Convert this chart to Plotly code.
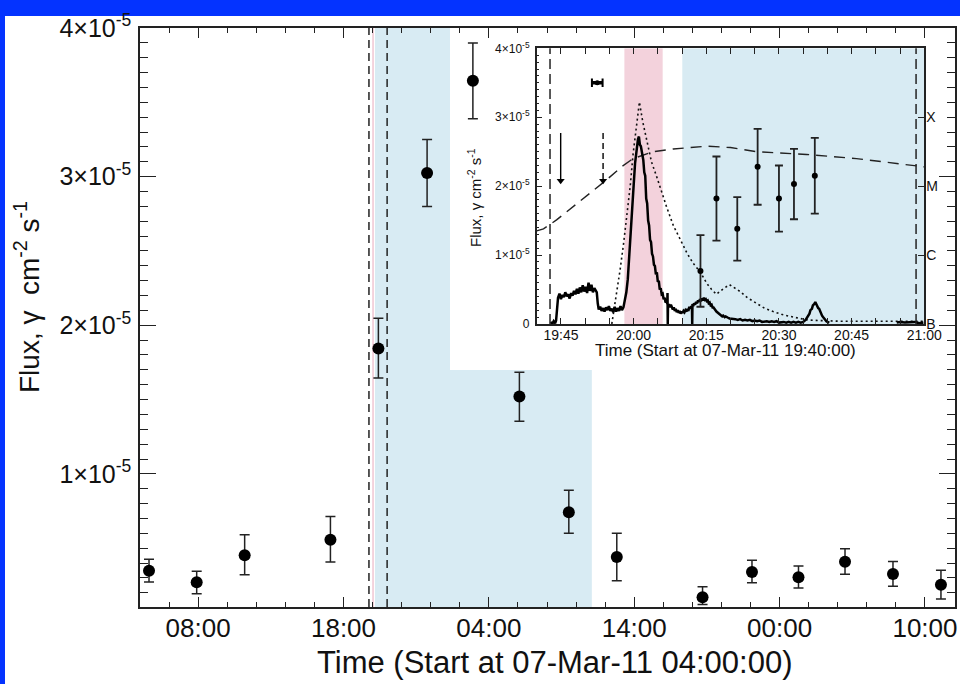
import numpy as np
import pandas as pd
import plotly.graph_objects as go

# ---------------- data: main panel ----------------
MAIN_START = pd.Timestamp("2011-03-07 04:00:00")
main_hours = [0.62, 3.90, 7.20, 13.10, 16.40, 19.75, 22.90, 26.10, 29.50, 32.80,
              38.70, 42.10, 45.30, 48.50, 51.80, 55.10]
main_flux = [3.48e-6, 2.70e-6, 4.53e-6, 5.56e-6, 1.844e-5, 3.024e-5, 3.645e-5, 1.52e-5,
             7.42e-6, 4.40e-6, 1.69e-6, 3.39e-6, 3.04e-6, 4.08e-6, 3.26e-6, 2.54e-6]
main_err_up = [0.77e-6, 0.74e-6, 1.37e-6, 1.57e-6, 2.04e-6, 2.26e-6, 2.55e-6, 1.63e-6,
               1.48e-6, 1.60e-6, 0.72e-6, 0.79e-6, 0.76e-6, 0.88e-6, 0.85e-6, 0.97e-6]
main_err_dn = [0.76e-6, 0.77e-6, 1.32e-6, 1.50e-6, 1.99e-6, 2.24e-6, 2.55e-6, 1.66e-6,
               1.42e-6, 1.59e-6, 0.49e-6, 0.72e-6, 0.72e-6, 0.84e-6, 0.83e-6, 0.96e-6]
main_window = ["2011-03-07 19:45", "2011-03-07 21:00"]
impulsive = ["2011-03-07 19:58", "2011-03-07 20:06"]
extended = ["2011-03-07 20:10", "2011-03-08 11:05"]
main_range = ["2011-03-07 04:00", "2011-03-09 12:04"]

# ---------------- data: inset ----------------
INSET_START = pd.Timestamp("2011-03-07 19:40:00")
goes_min = [2.9, 3.2, 3.5, 3.8, 4.0, 4.2, 4.4, 4.7, 5.0, 5.3, 5.6, 5.9, 6.2, 6.5, 6.8, 7.1,
            7.4, 7.7, 8.0, 8.3, 8.6, 8.9, 9.2, 9.5, 9.8, 10.1, 10.4, 10.7, 11.0, 11.3, 11.6,
            11.9, 12.2, 12.4, 12.6, 12.8, 13.1, 13.4, 13.7, 14.0, 14.3, 14.6, 14.9, 15.2,
            15.5, 15.8, 16.1, 16.4, 16.7, 17.0, 17.3, 17.6, 17.9, 18.2, 18.5, 18.8, 19.1,
            19.4, 19.7, 20.0, 20.3, 20.6, 20.9, 21.1, 21.3, 21.5, 21.8, 22.0, 22.2, 22.4,
            22.6, 22.8, 23.0, 23.2, 23.4, 23.6, 23.8, 24.0, 24.2, 24.4, 24.6, 24.8, 25.0,
            25.2, 25.4, 25.6, 25.8, 26.0, 26.2, 26.4, 26.6, 26.8, 26.95,
            27.0, 27.05, 27.1, 27.3, 27.5, 27.7, 27.9, 28.1, 28.3, 28.5, 28.7, 28.9, 29.1,
            29.3, 29.5, 29.7, 29.9, 30.1, 30.3, 30.5, 30.7, 30.9, 31.1, 31.3, 31.5, 31.7,
            31.9, 32.05, 32.1, 32.15, 32.3, 32.5, 32.7, 32.9, 33.1, 33.3, 33.5, 33.7, 33.9,
            34.1, 34.3, 34.5, 34.7, 34.9, 35.1, 35.3, 35.5, 35.7, 35.9, 36.1, 36.3, 36.5,
            36.7, 36.9, 37.1, 37.3, 37.5, 37.7, 37.9, 38.1, 38.3, 38.5, 38.8, 39.0, 39.3,
            39.5, 39.8, 40.0, 40.5, 41.0, 41.5, 42.0, 42.5, 43.0, 43.5, 44.0, 44.5, 45.0,
            45.5, 46.0, 46.5, 47.0, 47.5, 48.0, 48.5, 49.0, 49.5, 50.0, 50.5, 51.0, 51.5,
            52.0, 52.5, 53.0, 53.5, 54.0, 54.5, 55.0, 55.5, 56.0, 56.3, 56.5, 56.8, 57.0,
            57.3, 57.5, 57.7, 57.9, 58.1, 58.3, 58.5, 58.7, 58.9, 59.1, 59.3, 59.5, 59.8,
            60.0, 60.4, None,
            74.3, 75.0, 76.0, 77.0, 78.0, 79.0, 79.8]
goes_e6 = [0.3, 0.0, 0.4, 0.1, 0.5, 2.0, 3.8, 4.4, 3.6, 4.2, 3.9, 4.6, 4.0, 4.3, 3.7, 4.5,
           4.1, 4.8, 4.3, 5.1, 4.4, 5.3, 4.6, 5.6, 4.7, 5.4, 4.5, 6.0, 4.8, 5.7, 4.6,
           5.2, 4.9, 4.6, 3.0, 2.1, 2.5, 1.9, 2.3, 1.8, 2.4, 2.0, 2.6, 1.9,
           2.2, 1.7, 2.5, 1.8, 2.3, 1.9, 2.6, 2.0, 2.4, 3.5, 4.6, 6.5, 9.5,
           13.0, 16.5, 20.0, 23.3, 25.5, 26.8, 27.2, 26.0, 25.8, 24.5, 23.8, 22.0, 21.5,
           18.2, 17.5, 15.0, 14.3, 12.2, 11.9, 10.2, 9.8, 8.6, 8.4, 7.2, 7.5, 6.1,
           6.3, 5.0, 5.2, 4.3, 4.4, 3.6, 3.8, 3.1, 3.3, 2.9,
           4.5, 0.0, 2.6, 2.9, 2.4, 2.8, 2.5, 2.1, 2.4, 1.9, 2.2, 1.7, 2.0,
           1.6, 1.9, 1.5, 1.8, 1.6, 1.9, 1.7, 2.0, 1.8, 2.2, 1.9, 2.5, 2.2,
           2.6, 2.4, 0.0, 2.9, 2.6, 3.0, 2.8, 3.2, 3.0, 3.4, 3.2, 3.6, 3.3,
           3.7, 3.4, 3.8, 3.5, 3.6, 3.3, 3.4, 3.0, 3.1, 2.7, 2.8, 2.4, 2.4,
           2.1, 2.0, 1.8, 1.7, 1.5, 1.5, 1.3, 1.3, 1.1, 1.2, 1.0, 1.1, 0.9,
           0.9, 0.8, 0.8, 0.7, 0.7, 0.6, 0.7, 0.5, 0.6, 0.5, 0.6, 0.4, 0.5,
           0.4, 0.5, 0.3, 0.4, 0.4, 0.3, 0.4, 0.3, 0.4, 0.2, 0.3, 0.3, 0.2,
           0.3, 0.2, 0.3, 0.2, 0.3, 0.2, 0.3, 0.6, 1.2, 1.5, 2.0, 2.2, 2.7,
           2.9, 3.2, 2.8, 2.7, 2.3, 2.2, 1.8, 1.6, 1.2, 1.0, 0.8, 0.6, 0.4,
           0.3, 0.2, None,
           0.2, 0.3, 0.2, 0.2, 0.3, 0.1, 0.2]
model_min = [15.5, 16.3, 17.2, 17.9, 18.6, 19.3, 19.9, 20.6, 21.2, 21.9, 22.7, 23.7, 24.8,
             25.8, 26.8, 28.2, 29.6, 31.0, 32.3, 33.8, 35.1, 36.1, 37.1, 38.5, 39.8, 40.9,
             42.0, 43.5, 45.4, 47.0, 48.8, 50.5, 52.3, 54.0, 55.7, 58.0, 62.6, 70.0, 80.0]
model_e6 = [0.0, 3.5, 7.8, 11.5, 15.5, 20.0, 24.7, 28.8, 32.2, 29.3, 26.7, 23.5, 21.3,
            19.0, 17.0, 14.3, 12.2, 10.3, 8.8, 7.5, 5.9, 5.0, 4.3, 5.1, 5.7, 5.2,
            4.7, 3.8, 3.0, 2.3, 1.8, 1.4, 1.1, 0.8, 0.6, 0.5, 0.4, 0.4, 0.4]
exposure_min = [0.0, 1.4, 4.1, 8.9, 14.4, 17.5, 19.9, 24.0, 28.2, 35.1, 40.0, 45.4, 55.7, 66.0, 80.0]
exposure_e6 = [13.5, 13.8, 15.1, 17.8, 20.9, 22.8, 24.0, 25.0, 25.4, 25.8, 25.6, 25.0, 24.6, 24.0, 22.8]
lat_min = [33.8, 37.1, 41.4, 45.6, 50.0, 53.1, 57.4]
lat_flux = [0.77e-5, 1.82e-5, 1.38e-5, 2.28e-5, 1.82e-5, 2.03e-5, 2.15e-5]
lat_err = [0.52e-5, 0.61e-5, 0.46e-5, 0.55e-5, 0.48e-5, 0.51e-5, 0.55e-5]
ul_min = [4.95, 13.7]
ul_flux = [2.0e-5, 2.0e-5]
hx_min = [12.5]
hx_flux = [3.5e-5]
hx_err_min = [1.1]
inset_window_min = [2.75, 78.3]
inset_impulsive_min = [18.1, 26.0]
inset_extended_min = [30.05, 80.0]
goes_ticks = [0, 1e-5, 2e-5, 3e-5]
goes_labels = ["B", "C", "M", "X"]


def tmain(h):
    return MAIN_START + pd.Timedelta(hours=h)


def tin(m):
    return None if m is None else INSET_START + pd.Timedelta(minutes=m)


main_t = [tmain(h) for h in main_hours]
goes_t = [tin(m) for m in goes_min]
goes_y = [None if v is None else v * 1e-6 for v in goes_e6]
model_t = [tin(m) for m in model_min]
model_y = [v * 1e-6 for v in model_e6]
exp_t = [tin(m) for m in exposure_min]
exp_y = [v * 1e-6 for v in exposure_e6]
lat_t = [tin(m) for m in lat_min]

FONT = "Liberation Sans, Arial, sans-serif"
BLUE_BAND = "#d8ebf3"
PINK_BAND = "#f3d2dc"

# layout geometry (pixels of the 960x684 page)
MAIN_X = (140, 955)
MAIN_Y = (607, 28)
INSET_X = (536.7, 924.3)
INSET_Y = (324, 48.3)
BOX_LEFT_PX, BOX_BOTTOM_PX = 450, 370
INSET_YRANGE = [-0.0005e-5, 4.0005e-5]

r0, r1 = pd.Timestamp(main_range[0]), pd.Timestamp(main_range[1])
box_frac_x = (BOX_LEFT_PX - MAIN_X[0]) / (MAIN_X[1] - MAIN_X[0])
box_left_t = r0 + (r1 - r0) * box_frac_x
box_frac_y = (MAIN_Y[0] - BOX_BOTTOM_PX) / (MAIN_Y[0] - MAIN_Y[1])

fig = go.Figure()

fig.add_trace(go.Scatter(
    x=main_t, y=main_flux, mode="markers", xaxis="x", yaxis="y",
    marker=dict(color="black", size=12),
    error_y=dict(type="data", symmetric=False, array=main_err_up, arrayminus=main_err_dn,
                 color="#222", thickness=1.5, width=5),
    showlegend=False))

fig.add_trace(go.Scatter(x=exp_t, y=exp_y, mode="lines", xaxis="x2", yaxis="y2",
                         line=dict(color="#222", width=1.4, dash="11px,7px"), showlegend=False))
fig.add_trace(go.Scatter(x=model_t, y=model_y, mode="lines", xaxis="x2", yaxis="y2",
                         line=dict(color="#111", width=1.6, dash="2px,3px"), showlegend=False))
fig.add_trace(go.Scatter(x=goes_t, y=goes_y, mode="lines", xaxis="x2", yaxis="y2",
                         connectgaps=False,
                         line=dict(color="black", width=2.5), showlegend=False))
fig.add_trace(go.Scatter(
    x=lat_t, y=lat_flux, mode="markers", xaxis="x2", yaxis="y2",
    marker=dict(color="black", size=6),
    error_y=dict(type="data", array=lat_err, color="#222", thickness=1.8, width=4),
    showlegend=False))
for m, v, e in zip(hx_min, hx_flux, hx_err_min):
    fig.add_trace(go.Scatter(
        x=[tin(m - e), tin(m + e)], y=[v, v], mode="lines+markers", xaxis="x2", yaxis="y2",
        line=dict(color="black", width=3.5),
        marker=dict(symbol="line-ns", size=6, line=dict(width=2, color="black")),
        showlegend=False))
    fig.add_trace(go.Scatter(
        x=[tin(m)], y=[v], mode="markers", xaxis="x2", yaxis="y2",
        marker=dict(color="black", size=5), showlegend=False))
for i, (m, v) in enumerate(zip(ul_min, ul_flux)):
    fig.add_trace(go.Scatter(
        x=[tin(m), tin(m)], y=[v + 0.77e-5, v + 0.1e-5], mode="lines", xaxis="x2", yaxis="y2",
        line=dict(color="black", width=1.4, dash="solid" if i == 0 else "6px,4px"),
        showlegend=False))
    fig.add_trace(go.Scatter(
        x=[tin(m)], y=[v + 0.08e-5], mode="markers", xaxis="x2", yaxis="y2",
        marker=dict(symbol="triangle-down", size=7, color="black"), showlegend=False))
fig.add_trace(go.Scatter(x=[tin(0)], y=[0], mode="markers", xaxis="x2", yaxis="y3",
                         marker=dict(opacity=0), showlegend=False, hoverinfo="skip"))

shapes = [
    dict(type="rect", xref="paper", yref="paper", x0=5 / 960, x1=1.0, y0=0,
         y1=(684 - 16) / 684, fillcolor="white", line=dict(width=0), layer="below"),
    dict(type="rect", xref="x", yref="y domain", x0=extended[0], x1=box_left_t, y0=0, y1=1,
         fillcolor=BLUE_BAND, line=dict(width=0), layer="below"),
    dict(type="rect", xref="x", yref="y domain", x0=box_left_t, x1=extended[1], y0=0,
         y1=box_frac_y, fillcolor=BLUE_BAND, line=dict(width=0), layer="below"),
    dict(type="rect", xref="x", yref="y domain", x0=impulsive[0], x1=impulsive[1], y0=0, y1=1,
         fillcolor=PINK_BAND, line=dict(width=0), layer="below"),
    # inset bands: data refs so they live in the inset subplot's own layer
    dict(type="rect", xref="x2", yref="y2", x0=tin(inset_impulsive_min[0]),
         x1=tin(inset_impulsive_min[1]), y0=INSET_YRANGE[0], y1=INSET_YRANGE[1],
         fillcolor=PINK_BAND, line=dict(width=0), layer="below"),
    dict(type="rect", xref="x2", yref="y2", x0=tin(inset_extended_min[0]),
         x1=tin(inset_extended_min[1]), y0=INSET_YRANGE[0], y1=INSET_YRANGE[1],
         fillcolor=BLUE_BAND, line=dict(width=0), layer="below"),
]
for t in main_window:
    shapes.append(dict(type="line", xref="x", yref="y domain", x0=t, x1=t, y0=0, y1=1,
                       line=dict(color="#222", width=1.5, dash="8px,5px")))
for m in inset_window_min:
    shapes.append(dict(type="line", xref="x2", yref="y2 domain", x0=tin(m), x1=tin(m), y0=0, y1=1,
                       line=dict(color="#222", width=1.5, dash="10px,5px")))


def sci(v):
    return "%d×10<sup>-5</sup>" % v


fig.update_layout(
    width=960, height=684, margin=dict(l=0, r=0, t=0, b=0, autoexpand=False),
    paper_bgcolor="rgb(4,51,255)", plot_bgcolor="white",
    font=dict(family=FONT, color="#111"),
    showlegend=False,
    shapes=shapes,
    xaxis=dict(domain=[MAIN_X[0] / 960, MAIN_X[1] / 960], anchor="y", type="date", range=main_range,
               automargin=False,
               tick0="2011-03-07 08:00", dtick=36000000, tickformat="%H:%M",
               ticks="inside", ticklen=10, tickwidth=1.3, tickcolor="#222",
               minor=dict(dtick=7200000, ticks="inside", ticklen=5, tickwidth=1.3, tickcolor="#222"),
               showline=True, linecolor="#222", linewidth=1.5, mirror="allticks",
               showgrid=False, zeroline=False, tickfont=dict(size=26, family=FONT, color="#111"),
               ticklabelstandoff=-3),
    yaxis=dict(domain=[(684 - MAIN_Y[0]) / 684, (684 - MAIN_Y[1]) / 684], anchor="x",
               automargin=False,
               range=[1.04e-6, 4.0005e-5],
               tickvals=[1e-5, 2e-5, 3e-5, 4e-5], ticktext=[sci(1), sci(2), sci(3), sci(4)],
               ticks="inside", ticklen=16, tickwidth=1.3, tickcolor="#222",
               minor=dict(dtick=1e-6, ticks="inside", ticklen=8, tickwidth=1.3, tickcolor="#222"),
               showline=True, linecolor="#222", linewidth=1.5, mirror="allticks",
               showgrid=False, zeroline=False, tickfont=dict(size=25, family=FONT, color="#111"),
               ticklabelstandoff=2),
    xaxis2=dict(domain=[INSET_X[0] / 960, INSET_X[1] / 960], anchor="y2", type="date",
                automargin=False,
                range=[tin(0), tin(80)], tick0="2011-03-07 19:45", dtick=900000,
                tickformat="%H:%M", ticks="inside", ticklen=6, tickwidth=1, tickcolor="#222",
                minor=dict(dtick=300000, ticks="inside", ticklen=3, tickwidth=1, tickcolor="#222"),
                showline=True, linecolor="#222", linewidth=1.5, mirror="allticks",
                showgrid=False, zeroline=False, tickfont=dict(size=14, family=FONT, color="#111"),
                ticklabelstandoff=-3),
    yaxis2=dict(domain=[(684 - INSET_Y[0]) / 684, (684 - INSET_Y[1]) / 684], anchor="x2",
                automargin=False,
                range=INSET_YRANGE,
                tickvals=[0, 1e-5, 2e-5, 3e-5, 4e-5],
                ticktext=["0", sci(1), sci(2), sci(3), sci(4)],
                ticks="inside", ticklen=6, tickwidth=1, tickcolor="#222",
                minor=dict(dtick=1e-6, ticks="inside", ticklen=3, tickwidth=1, tickcolor="#222"),
                showline=True, linecolor="#222", linewidth=1.5, mirror=True,
                showgrid=False, zeroline=False, tickfont=dict(size=12, family=FONT, color="#111"),
                ticklabelstandoff=3),
    yaxis3=dict(overlaying="y2", anchor="x2", side="right", range=INSET_YRANGE,
                automargin=False,
                tickvals=goes_ticks, ticktext=goes_labels, ticks="inside", ticklen=6,
                tickwidth=1, tickcolor="#222", showline=False, showgrid=False, zeroline=False,
                tickfont=dict(size=14, family=FONT, color="#111"), ticklabelstandoff=1),
    annotations=[
        dict(text="Time (Start at 07-Mar-11 04:00:00)", xref="paper", yref="paper",
             x=555 / 960, y=(684 - 662) / 684, xanchor="center", yanchor="middle",
             showarrow=False, font=dict(size=31, family=FONT, color="#111")),
        dict(text="Flux, γ  cm<sup>-2</sup> s<sup>-1</sup>", xref="paper", yref="paper",
             x=27 / 960, y=(684 - 297) / 684, xanchor="center", yanchor="middle",
             textangle=-90, showarrow=False, font=dict(size=28, family=FONT, color="#111")),
        dict(text="Time (Start at 07-Mar-11 19:40:00)", xref="paper", yref="paper",
             x=725.7 / 960, y=(684 - 350) / 684, xanchor="center", yanchor="middle",
             showarrow=False, font=dict(size=17, family=FONT, color="#111")),
        dict(text="Flux, γ cm<sup>-2</sup> s<sup>-1</sup>", xref="paper", yref="paper",
             x=474 / 960, y=(684 - 198) / 684, xanchor="center", yanchor="middle",
             textangle=-90, showarrow=False, font=dict(size=15, family=FONT, color="#111")),
    ],
)

fig.write_html("out.html")
